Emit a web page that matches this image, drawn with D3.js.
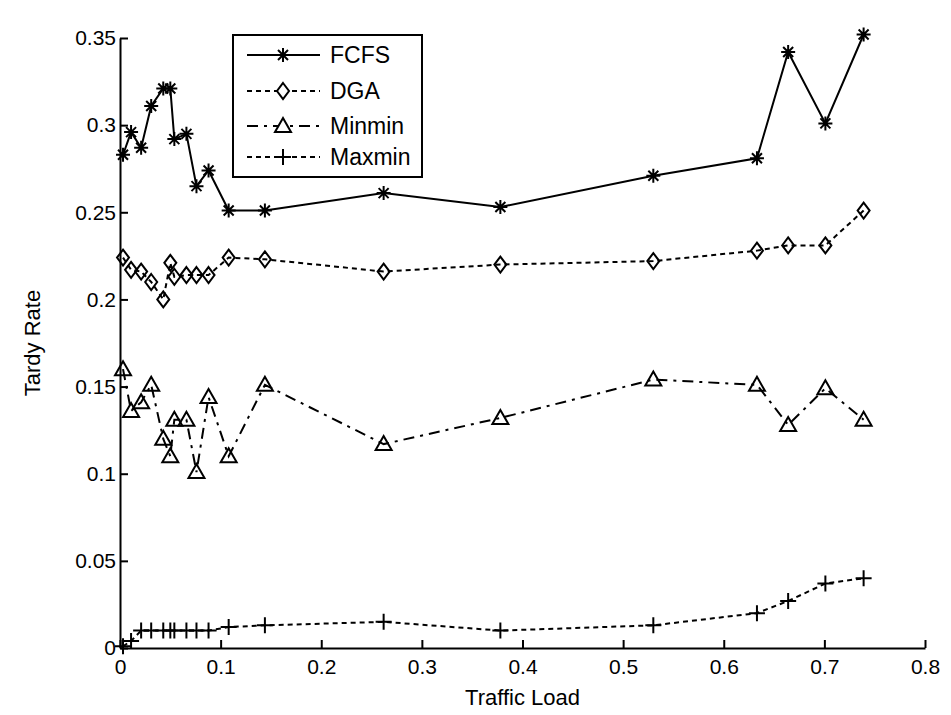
<!DOCTYPE html>
<html>
<head>
<meta charset="utf-8">
<script src="https://cdn.jsdelivr.net/npm/d3@7"></script>
<style>
body { margin: 0; background: #fff; }
text { font-family: "Liberation Sans Narrow", "Arial Narrow", "Liberation Sans", Arial, sans-serif; fill: #000; }
</style>
</head>
<body>
<div id="chart"></div>
<script>
// traffic load (shared x values) and tardy rate per scheduler
var loads  = [0.003, 0.011, 0.021, 0.031, 0.043, 0.050, 0.054, 0.066, 0.076, 0.088, 0.108, 0.144, 0.262, 0.378, 0.530, 0.633, 0.664, 0.701, 0.739];
var fcfs   = [0.283, 0.296, 0.287, 0.311, 0.321, 0.321, 0.292, 0.295, 0.265, 0.274, 0.251, 0.251, 0.261, 0.253, 0.271, 0.281, 0.342, 0.301, 0.352];
var dga    = [0.224, 0.217, 0.216, 0.210, 0.200, 0.221, 0.213, 0.214, 0.214, 0.214, 0.224, 0.223, 0.216, 0.220, 0.222, 0.228, 0.231, 0.231, 0.251];
var minmin = [0.160, 0.136, 0.141, 0.151, 0.120, 0.110, 0.131, 0.131, 0.101, 0.144, 0.110, 0.151, 0.117, 0.132, 0.154, 0.151, 0.128, 0.149, 0.131];
var maxmin = [0.001, 0.004, 0.010, 0.010, 0.010, 0.010, 0.010, 0.010, 0.010, 0.010, 0.012, 0.013, 0.015, 0.010, 0.013, 0.020, 0.027, 0.037, 0.040];

var seriesNames = ["FCFS", "DGA", "Minmin", "Maxmin"];
var xTicks = [0, 0.1, 0.2, 0.3, 0.4, 0.5, 0.6, 0.7, 0.8];
var yTicks = [0, 0.05, 0.1, 0.15, 0.2, 0.25, 0.3, 0.35];

var styles = {
    FCFS:   {dash: null,         marker: "star"},
    DGA:    {dash: "5,4",        marker: "diamond"},
    Minmin: {dash: "11,6,3,6",   marker: "triangle"},
    Maxmin: {dash: "5,4",        marker: "plus"}
};

var margin = {left: 120, right: 26, top: 38, bottom: 67},
    width = 951 - margin.left - margin.right,
    height = 715 - margin.top - margin.bottom;

var svg = d3.select("#chart")
    .append("svg")
    .attr("width", width + margin.left + margin.right)
    .attr("height", height + margin.top + margin.bottom)
    .append("g")
    .attr("transform", "translate(" + margin.left + "," + margin.top + ")");

var x = d3.scaleLinear().domain([0, 0.8]).range([0, width]);
var y = d3.scaleLinear().domain([0, 0.35]).range([height, 0]);

// marker shapes, roughly like the matlab ones
function markerPath(kind) {
    if (kind === "star") {
        var r = 7, d = 5;
        return "M" + (-r) + ",0H" + r + "M0," + (-r) + "V" + r +
            "M" + (-d) + "," + (-d) + "L" + d + "," + d + "M" + (-d) + "," + d + "L" + d + "," + (-d);
    } else if (kind === "diamond") {
        return "M0,-8L6,0L0,8L-6,0Z";
    } else if (kind === "triangle") {
        return "M0,-8L8,6H-8Z";
    } else {
        return "M-8,0H8M0,-8V8";
    }
}

var data = {FCFS: fcfs, DGA: dga, Minmin: minmin, Maxmin: maxmin};

var line = d3.line()
    .x(function (d) { return x(d[0]); })
    .y(function (d) { return y(d[1]); });

seriesNames.forEach(function (name) {
    var pts = loads.map(function (l, i) { return [l, data[name][i]]; });
    var st = styles[name];
    svg.append("path")
        .datum(pts)
        .attr("fill", "none")
        .attr("stroke", "#000")
        .attr("stroke-width", 2)
        .attr("stroke-dasharray", st.dash)
        .attr("d", line);
    svg.append("g").selectAll("path")
        .data(pts)
        .enter().append("path")
        .attr("transform", function (d) { return "translate(" + x(d[0]) + "," + y(d[1]) + ")"; })
        .attr("d", markerPath(st.marker))
        .attr("fill", st.marker === "star" ? "#000" : "#fff")
        .attr("fill-opacity", st.marker === "star" ? 1 : 0)
        .attr("stroke", "#000")
        .attr("stroke-width", 2);
});

// axes (inward ticks, no box)
var xAxis = svg.append("g")
    .attr("transform", "translate(0," + height + ")")
    .call(d3.axisBottom(x).tickValues(xTicks).tickFormat(d3.format("~g"))
        .tickSizeInner(-8).tickSizeOuter(0).tickPadding(11));

var yAxis = svg.append("g")
    .call(d3.axisLeft(y).tickValues(yTicks).tickFormat(d3.format("~g"))
        .tickSizeInner(-8).tickSizeOuter(0).tickPadding(4));

[xAxis, yAxis].forEach(function (a) {
    a.select(".domain").attr("stroke-width", 2);
    a.selectAll(".tick line").attr("stroke-width", 2);
    a.selectAll("text").style("font-size", "21px").attr("fill", "#000");
});

svg.append("text")
    .attr("x", width / 2)
    .attr("y", height + 57)
    .attr("text-anchor", "middle")
    .style("font-size", "22px")
    .text("Traffic Load");

svg.append("text")
    .attr("transform", "translate(-80," + (height / 2) + ") rotate(-90)")
    .attr("text-anchor", "middle")
    .style("font-size", "22px")
    .text("Tardy Rate");

// legend
var legend = svg.append("g")
    .attr("transform", "translate(" + (233 - margin.left) + "," + (35 - margin.top) + ")");

legend.append("rect")
    .attr("width", 189)
    .attr("height", 142)
    .attr("fill", "#fff")
    .attr("stroke", "#000")
    .attr("stroke-width", 2);

var rowY = [20, 56, 91, 122];
seriesNames.forEach(function (name, i) {
    var st = styles[name];
    var row = legend.append("g").attr("transform", "translate(0," + rowY[i] + ")");
    row.append("line")
        .attr("x1", 14).attr("x2", 87)
        .attr("stroke", "#000").attr("stroke-width", 2)
        .attr("stroke-dasharray", st.dash);
    row.append("path")
        .attr("transform", "translate(50,0)")
        .attr("d", markerPath(st.marker))
        .attr("fill", st.marker === "star" ? "#000" : "#fff")
        .attr("stroke", "#000").attr("stroke-width", 2);
    row.append("text")
        .attr("x", 97)
        .attr("dy", "0.35em")
        .style("font-size", "23px")
        .text(name);
});
</script>
</body>
</html>
